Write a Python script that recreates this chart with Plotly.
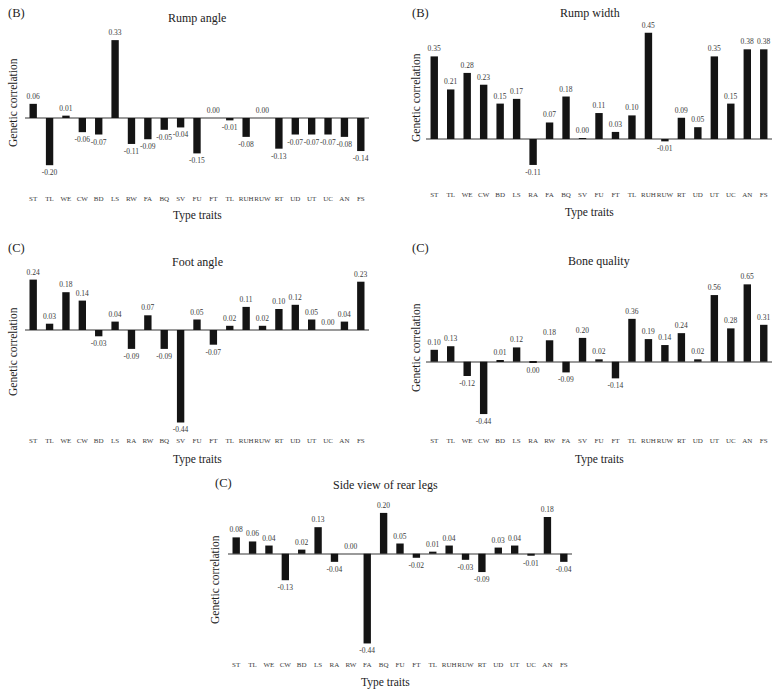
import plotly.graph_objects as go

W, H = 772, 692

# ---------------- data ----------------
rump_angle_traits = ["ST", "TL", "WE", "CW", "BD", "LS", "RW", "FA", "BQ", "SV", "FU",
                     "FT", "TL", "RUH", "RUW", "RT", "UD", "UT", "UC", "AN", "FS"]
rump_angle_vals = [0.06, -0.20, 0.01, -0.06, -0.07, 0.33, -0.11, -0.09, -0.05, -0.04, -0.15,
                   0.00, -0.01, -0.08, 0.00, -0.13, -0.07, -0.07, -0.07, -0.08, -0.14]

rump_width_traits = ["ST", "TL", "WE", "CW", "BD", "LS", "RA", "FA", "BQ", "SV", "FU",
                     "FT", "TL", "RUH", "RUW", "RT", "UD", "UT", "UC", "AN", "FS"]
rump_width_vals = [0.35, 0.21, 0.28, 0.23, 0.15, 0.17, -0.11, 0.07, 0.18, 0.004, 0.11,
                   0.03, 0.10, 0.45, -0.01, 0.09, 0.05, 0.35, 0.15, 0.38, 0.38]

foot_angle_traits = ["ST", "TL", "WE", "CW", "BD", "LS", "RA", "RW", "BQ", "SV", "FU",
                     "FT", "TL", "RUH", "RUW", "RT", "UD", "UT", "UC", "AN", "FS"]
foot_angle_vals = [0.24, 0.03, 0.18, 0.14, -0.03, 0.04, -0.09, 0.07, -0.09, -0.44, 0.05,
                   -0.07, 0.02, 0.11, 0.02, 0.10, 0.12, 0.05, 0.00, 0.04, 0.23]

bone_quality_traits = ["ST", "TL", "WE", "CW", "BD", "LS", "RA", "RW", "FA", "SV", "FU",
                       "FT", "TL", "RUH", "RUW", "RT", "UD", "UT", "UC", "AN", "FS"]
bone_quality_vals = [0.10, 0.13, -0.12, -0.44, 0.01, 0.12, -0.004, 0.18, -0.09, 0.20, 0.02,
                     -0.14, 0.36, 0.19, 0.14, 0.24, 0.02, 0.56, 0.28, 0.65, 0.31]

rear_legs_traits = ["ST", "TL", "WE", "CW", "BD", "LS", "RA", "RW", "FA", "BQ", "FU",
                    "FT", "TL", "RUH", "RUW", "RT", "UD", "UT", "UC", "AN", "FS"]
rear_legs_vals = [0.08, 0.06, 0.04, -0.13, 0.02, 0.13, -0.04, 0.00, -0.44, 0.20, 0.05,
                  -0.02, 0.01, 0.04, -0.03, -0.09, 0.03, 0.04, -0.01, 0.18, -0.04]

panel_letters = ["(B)", "(B)", "(C)", "(C)", "(C)"]
panel_titles = ["Rump angle", "Rump width", "Foot angle", "Bone quality", "Side view of rear legs"]
x_title = "Type traits"
y_title = "Genetic correlation"

# ---------------- layout (pixel geometry) ----------------
# x0, x1 : horizontal domain; top, bottom : vertical domain; zero: pixel y of 0; scale px/unit
panels = [
    dict(traits=rump_angle_traits, vals=rump_angle_vals, x0=25, x1=369, top=30, bottom=193, zero=118, scale=236,
         letter=(16, 13), title=(197, 18), ytitle=(13, 103), xtitle=(197, 215)),
    dict(traits=rump_width_traits, vals=rump_width_vals, x0=426, x1=772, top=30, bottom=189, zero=139, scale=236,
         letter=(420, 13), title=(590, 13), ytitle=(416, 98), xtitle=(589, 212)),
    dict(traits=foot_angle_traits, vals=foot_angle_vals, x0=25, x1=369, top=270, bottom=435, zero=330, scale=210,
         letter=(16, 248), title=(197, 262), ytitle=(13, 352), xtitle=(197, 460)),
    dict(traits=bone_quality_traits, vals=bone_quality_vals, x0=426, x1=772, top=270, bottom=435, zero=361.7, scale=119,
         letter=(420, 248), title=(599, 261), ytitle=(416, 348), xtitle=(599, 460)),
    dict(traits=rear_legs_traits, vals=rear_legs_vals, x0=228, x1=572, top=500, bottom=659, zero=553.7, scale=204,
         letter=(224, 483), title=(385, 485), ytitle=(215, 580), xtitle=(385, 682)),
]

FONT = "Liberation Serif"
BAR_COLOR = "#141414"
TEXT_COLOR = "#3a3a3a"


def px_x(x):
    return x / W


def px_y(y):
    return 1 - y / H


def fmt(v):
    return f"{abs(v):.2f}" if abs(v) < 0.005 else f"{v:.2f}"


def label(text, pos, size, angle=0):
    return dict(text=text, x=px_x(pos[0]), y=px_y(pos[1]), xref="paper", yref="paper",
                xanchor="center", yanchor="middle", showarrow=False, textangle=angle,
                font=dict(family=FONT, size=size, color="#222222"))


fig = go.Figure()
annotations = []

for i, p in enumerate(panels):
    n = i + 1
    xa = "x" if n == 1 else f"x{n}"
    ya = "y" if n == 1 else f"y{n}"
    idx = list(range(len(p["traits"])))
    fig.add_trace(go.Bar(
        x=idx, y=p["vals"], xaxis=xa, yaxis=ya,
        marker=dict(color=BAR_COLOR, line=dict(width=0)),
        width=0.45,
        text=[fmt(v) for v in p["vals"]],
        textposition="outside",
        constraintext="none",
        cliponaxis=False,
        textfont=dict(family=FONT, size=7.5, color=TEXT_COLOR),
        hoverinfo="x+y",
        showlegend=False,
    ))
    rng_top = (p["zero"] - p["top"]) / p["scale"]
    rng_bot = -(p["bottom"] - p["zero"]) / p["scale"]
    xkey = "xaxis" if n == 1 else f"xaxis{n}"
    ykey = "yaxis" if n == 1 else f"yaxis{n}"
    fig.update_layout(**{
        xkey: dict(domain=[px_x(p["x0"]), px_x(p["x1"])], anchor=ya,
                   range=[-0.5, len(idx) - 0.5], tickmode="array", tickvals=idx, ticktext=p["traits"],
                   showgrid=False, zeroline=False, showline=False, ticks="",
                   tickfont=dict(family=FONT, size=7, color=TEXT_COLOR), tickangle=0),
        ykey: dict(domain=[px_y(p["bottom"]), px_y(p["top"])], anchor=xa,
                   range=[rng_bot, rng_top], showgrid=False, showticklabels=False, ticks="",
                   showline=False, zeroline=True, zerolinecolor="#9a9a9a", zerolinewidth=2),
    })
    annotations.append(label(panel_letters[i], p["letter"], 12.5))
    annotations.append(label(panel_titles[i], p["title"], 12))
    annotations.append(label(y_title, p["ytitle"], 11.5, -90))
    annotations.append(label(x_title, p["xtitle"], 11.5))

fig.update_layout(
    width=W, height=H, margin=dict(l=0, r=0, t=0, b=0),
    paper_bgcolor="white", plot_bgcolor="white",
    annotations=annotations, barmode="overlay",
)

fig.write_html("out.html")
